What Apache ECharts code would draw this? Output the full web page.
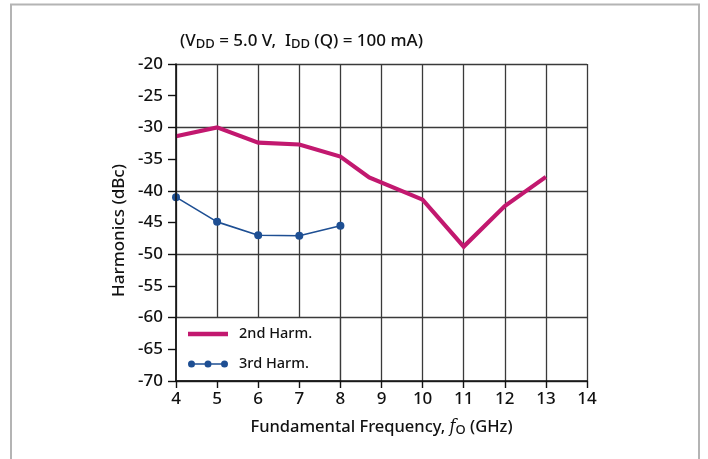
<!DOCTYPE html>
<html>
<head>
<meta charset="utf-8">
<script src="https://cdn.jsdelivr.net/npm/echarts@6/dist/echarts.min.js"></script>
<style>
  html, body { margin: 0; padding: 0; background: #fff; }
  #chart { width: 708px; height: 459px; }
</style>
</head>
<body>
<div id="chart"></div>
<script>
// Harmonic levels vs. fundamental frequency
const freq2nd = [4, 5, 6, 7, 8, 8.7, 10, 11, 12, 13];
const harm2nd = [-31.4, -30.0, -32.4, -32.7, -34.6, -37.9, -41.4, -48.8, -42.4, -37.8];
const freq3rd = [4, 5, 6, 7, 8];
const harm3rd = [-41.0, -44.9, -47.0, -47.1, -45.5];
const seriesNames = ['2nd Harm.', '3rd Harm.'];

// condensed, medium-weight sans (weight and stretch go through the canvas font shorthand)
const FONT = '"Noto Sans", "DejaVu Sans", sans-serif';
const WEIGHT = '500 condensed';
const INK = '#111';
const MAGENTA = '#c2186f';
const BLUE = '#1e4f93';
const GRID = '#3a3a3a';

const txt = (size, extra) => Object.assign({ fontFamily: FONT, fontWeight: WEIGHT, fontSize: size, color: INK }, extra || {});
const pairs = (xs, ys) => xs.map((x, i) => [x, ys[i]]);

// legend icons: a thick bar, and a thin line with three dots
const barIcon = 'path://M0,0 L40,0 L40,4.5 L0,4.5 Z';
const dotsIcon = 'path://M0,3.5 A3.5,3.5 0 1 1 7,3.5 A3.5,3.5 0 1 1 0,3.5 Z ' +
  'M16.5,3.5 A3.5,3.5 0 1 1 23.5,3.5 A3.5,3.5 0 1 1 16.5,3.5 Z ' +
  'M33,3.5 A3.5,3.5 0 1 1 40,3.5 A3.5,3.5 0 1 1 33,3.5 Z ' +
  'M5,2.7 L18,2.7 L18,4.3 L5,4.3 Z M22,2.7 L35,2.7 L35,4.3 L22,4.3 Z';

const axisLineStyle = { color: INK, width: 1.6 };
const tickStyle = { color: INK, width: 1.4 };
const gridStyle = { color: GRID, width: 1.3 };

const chart = echarts.init(document.getElementById('chart'), null, { renderer: 'canvas' });

chart.setOption({
  animation: false,
  backgroundColor: '#fff',
  title: {
    left: 175,
    top: 26,
    text: '(V{sub|DD} = 5.0 V,  I{sub|DD} (Q) = 100 mA)',
    textStyle: txt(17, { rich: { sub: txt(13, { padding: [7, 0, 0, 0] }) } })
  },
  grid: { left: 176, top: 64, width: 411, height: 317, containLabel: false },
  legend: {
    orient: 'vertical',
    left: 188,
    top: 326,
    padding: 0,
    z: 6,
    itemWidth: 40,
    itemHeight: 10,
    itemGap: 14,
    selectedMode: false,
    textStyle: txt(14.5, { lineHeight: 16, padding: [0, 0, 0, 6] }),
    data: [
      { name: seriesNames[0], icon: barIcon, itemStyle: { color: MAGENTA } },
      { name: seriesNames[1], icon: dotsIcon, itemStyle: { color: BLUE } }
    ]
  },
  xAxis: [{
    // axis line, ticks and labels, kept above the legend panel
    type: 'value',
    z: 5,
    min: 4, max: 14, interval: 1,
    name: 'Fundamental Frequency, {it|f}{sub|O} (GHz)',
    nameLocation: 'middle',
    nameGap: 36,
    nameTextStyle: txt(16.5, {
      rich: {
        it: { fontFamily: '"DejaVu Serif", serif', fontStyle: 'italic', fontSize: 18, color: INK },
        sub: txt(13, { padding: [7, 0, 0, 0] })
      }
    }),
    axisLine: { onZero: false, lineStyle: axisLineStyle },
    axisTick: { show: true, inside: false, length: 7, lineStyle: tickStyle },
    axisLabel: txt(17, { margin: 10 }),
    splitLine: { show: false }
  }, {
    // vertical grid lines
    type: 'value',
    position: 'bottom',
    min: 4, max: 14, interval: 1,
    axisLine: { show: false },
    axisTick: { show: false },
    axisLabel: { show: false },
    splitLine: { show: true, lineStyle: gridStyle }
  }],
  yAxis: [{
    type: 'value',
    z: 5,
    min: -70, max: -20, interval: 5,
    name: 'Harmonics (dBc)',
    nameLocation: 'middle',
    nameGap: 46,
    nameTextStyle: txt(17, { padding: [0, 16, 0, 0] }),
    axisLine: { show: true, onZero: false, lineStyle: axisLineStyle },
    axisTick: { show: true, inside: false, length: 8, lineStyle: tickStyle },
    axisLabel: txt(17, { margin: 13 }),
    splitLine: { show: false }
  }, {
    // horizontal grid lines every 10 dBc
    type: 'value',
    position: 'left',
    min: -70, max: -20, interval: 10,
    axisLine: { show: false },
    axisTick: { show: false },
    axisLabel: { show: false },
    splitLine: { show: true, lineStyle: gridStyle }
  }],
  series: [{
    name: seriesNames[0],
    type: 'line',
    data: pairs(freq2nd, harm2nd),
    symbol: 'none',
    lineStyle: { color: MAGENTA, width: 4.2, join: 'miter' },
    itemStyle: { color: MAGENTA },
    z: 3
  }, {
    name: seriesNames[1],
    type: 'line',
    data: pairs(freq3rd, harm3rd),
    symbol: 'circle',
    symbolSize: 8,
    lineStyle: { color: BLUE, width: 1.6 },
    itemStyle: { color: BLUE },
    z: 3,
    // white, outlined panel behind the legend over the 3rd-harmonic frequency range
    markArea: {
      silent: true,
      label: { show: false },
      itemStyle: { color: '#fff', opacity: 1, borderColor: GRID, borderWidth: 1.3 },
      data: [[{ coord: [freq3rd[0], -60] }, { coord: [freq3rd[freq3rd.length - 1], -70] }]]
    }
  }],
  graphic: [{
    type: 'rect',
    z: 10,
    silent: true,
    shape: { x: 11, y: 4.5, width: 688, height: 470 },
    style: { fill: 'none', stroke: '#b4b4b4', lineWidth: 2 }
  }]
});
</script>
</body>
</html>
